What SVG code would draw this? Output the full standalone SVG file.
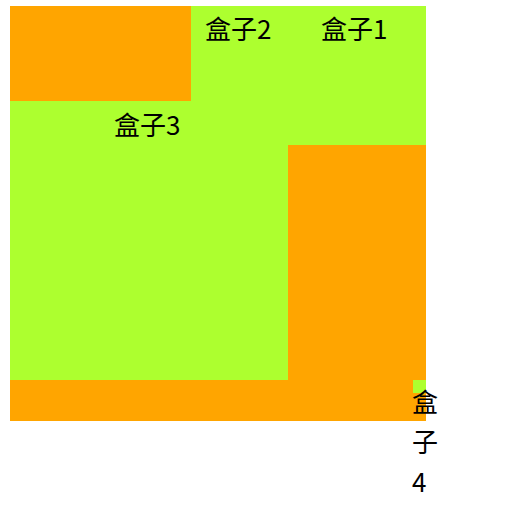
<svg xmlns="http://www.w3.org/2000/svg" width="520" height="516" viewBox="0 0 520 516">
<style>
.g{fill:#adff2f}
.o{fill:#ffa500}
text{font-family:"Noto Sans CJK SC","Noto Sans",sans-serif;font-size:26px;fill:#000}
</style>
<rect width="520" height="516" fill="#fff"/>
<g id="box1"><rect class="g" x="10" y="6" width="416" height="374"/><text x="321" y="39">盒子1</text></g>
<g id="box2"><rect class="o" x="10" y="6" width="181" height="95"/><text x="205" y="39">盒子2</text></g>
<g id="box3"><rect class="o" x="288" y="145" width="138" height="235"/><rect class="o" x="10" y="380" width="416" height="41"/><text x="114" y="135">盒子3</text></g>
<g id="box4"><rect class="g" x="413" y="380" width="13" height="13"/><text x="412" y="412">盒</text><text x="412" y="452">子</text><text x="412" y="492">4</text></g>
<g id="connectors"/>
</svg>
